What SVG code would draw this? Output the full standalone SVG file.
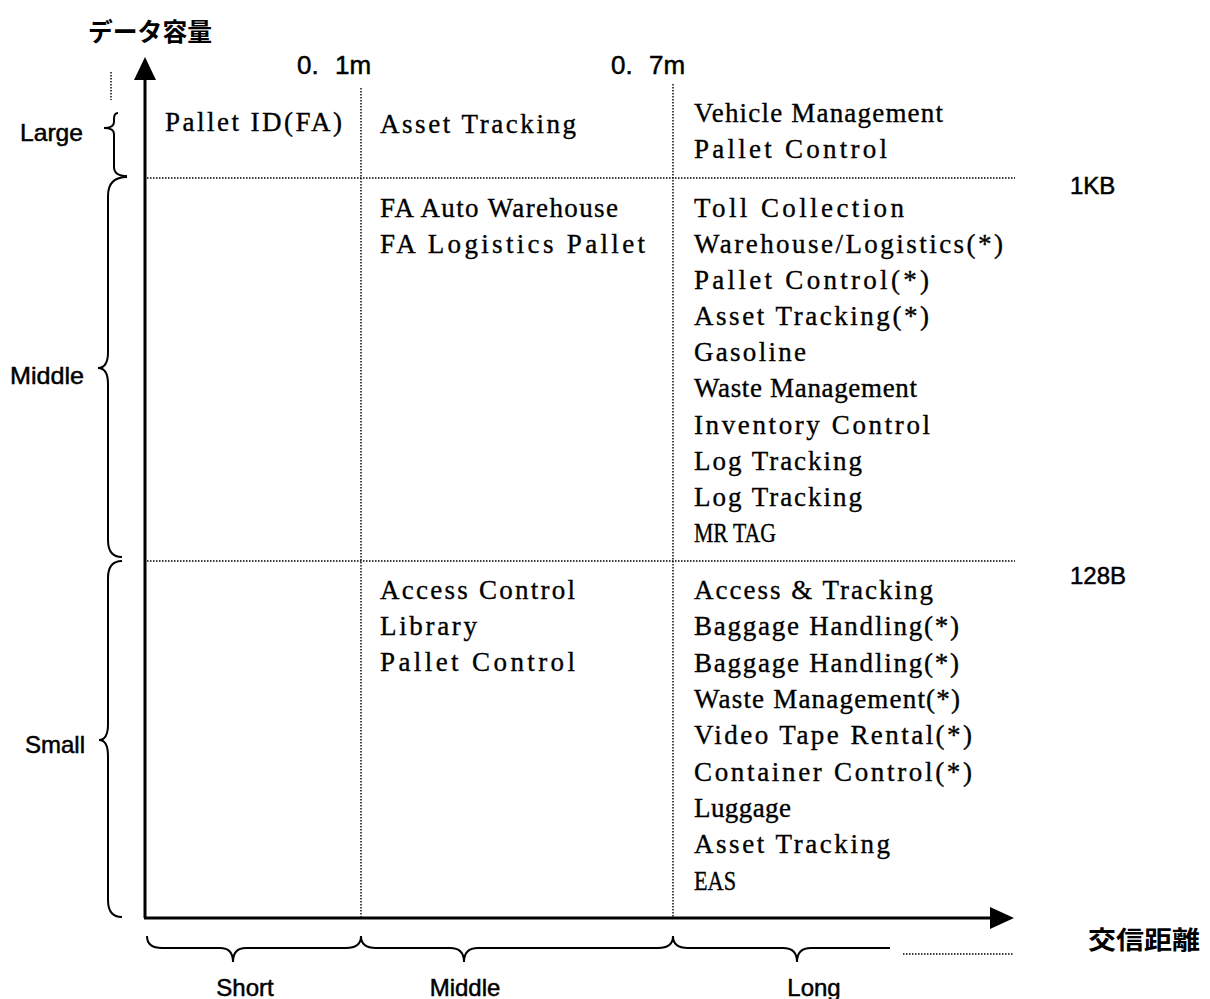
<svg xmlns="http://www.w3.org/2000/svg" width="1210" height="999" viewBox="0 0 1210 999">
<style>
.ax{stroke:#000;stroke-width:3;fill:none}
.dot{stroke:#000;stroke-width:1.4;stroke-dasharray:1.5 1.5;fill:none}
.br{stroke:#000;stroke-width:2;fill:none}
.item{font-family:"Liberation Serif",serif;font-size:27px;fill:#000;stroke:#000;stroke-width:0.35}
.lab{font-family:"Liberation Sans",Arial,sans-serif;font-size:24px;fill:#000;stroke:#000;stroke-width:0.5}
.big{font-size:26px}
.jp{font-family:"Noto Sans CJK JP","Liberation Sans",sans-serif;font-size:25px;font-weight:bold;fill:#000}
.mid{text-anchor:middle}
</style>
<rect width="1210" height="999" fill="#fff"/>
<g id="connectors">
<line class="ax" x1="145" y1="918" x2="145" y2="78"/>
<polygon points="145,57 134,80 156,80" fill="#000"/>
<line class="ax" x1="144" y1="918" x2="992" y2="918"/>
<polygon points="1014,918 990,907 990,929" fill="#000"/>
<line class="dot" x1="147" y1="178" x2="1015" y2="178"/>
<line class="dot" x1="147" y1="561" x2="1015" y2="561"/>
<line class="dot" x1="361" y1="88" x2="361" y2="917"/>
<line class="dot" x1="673" y1="84" x2="673" y2="917"/>
<line class="dot" x1="111" y1="72" x2="111" y2="100"/>
<line class="dot" x1="903" y1="954" x2="1013" y2="954"/>
<path class="br" d="M118,113 Q114,113 114,119 L114,122 Q114,128 104,128 Q114,128 114,134 L114,167 Q114,176 127,176"/>
<path class="br" d="M127,177 Q108,177 108,196 L108,352 Q108,368 98,368 Q108,368 108,384 L108,540 Q108,557 122,557"/>
<path class="br" d="M122,561 Q108,561 108,578 L108,724 Q108,740 99,740 Q108,740 108,756 L108,900 Q108,917 122,917"/>
<path class="br" d="M147,936 Q147,948 162,948 L220,948 Q233,948 233,962 Q233,948 246,948 L346,948 Q361,948 361,936"/>
<path class="br" d="M361,936 Q361,948 376,948 L450,948 Q464,948 464,962 Q464,948 478,948 L658,948 Q673,948 673,936"/>
<path class="br" d="M673,936 Q673,948 688,948 L783,948 Q797,948 797,962 Q797,948 811,948 L890,948"/>
</g>
<g id="axis-labels">
<text class="jp" x="88" y="41" textLength="124" lengthAdjust="spacingAndGlyphs">データ容量</text>
<text class="jp" x="1088" y="949" textLength="112" lengthAdjust="spacingAndGlyphs">交信距離</text>
<text class="lab big" x="297" y="74">0. <tspan x="335">1m</tspan></text>
<text class="lab big" x="611" y="74">0. <tspan x="649">7m</tspan></text>
<text class="lab" x="1070" y="194">1KB</text>
<text class="lab" x="1070" y="584">128B</text>
<text class="lab" x="20" y="141" textLength="63" lengthAdjust="spacingAndGlyphs">Large</text>
<text class="lab" x="10" y="384" textLength="74" lengthAdjust="spacingAndGlyphs">Middle</text>
<text class="lab" x="25" y="753" textLength="60" lengthAdjust="spacingAndGlyphs">Small</text>
<text class="lab mid" x="245" y="996">Short</text>
<text class="lab mid" x="465" y="996">Middle</text>
<text class="lab mid" x="814" y="996">Long</text>
</g>
<g id="cell-large-short"><text class="item" x="165" y="131" textLength="177" lengthAdjust="spacing">Pallet ID(FA)</text></g>
<g id="cell-large-middle"><text class="item" x="380" y="133" textLength="196" lengthAdjust="spacing">Asset Tracking</text></g>
<g id="cell-large-long">
<text class="item" x="694" y="122" textLength="249" lengthAdjust="spacing">Vehicle Management</text>
<text class="item" x="694" y="158" textLength="193" lengthAdjust="spacing">Pallet Control</text>
</g>
<g id="cell-middle-middle">
<text class="item" x="380" y="217" textLength="238" lengthAdjust="spacing">FA Auto Warehouse</text>
<text class="item" x="380" y="253" textLength="265" lengthAdjust="spacing">FA Logistics Pallet</text>
</g>
<g id="cell-middle-long">
<text class="item" x="694" y="217" textLength="210" lengthAdjust="spacing">Toll Collection</text>
<text class="item" x="694" y="253" textLength="309" lengthAdjust="spacing">Warehouse/Logistics(*)</text>
<text class="item" x="694" y="289" textLength="235" lengthAdjust="spacing">Pallet Control(*)</text>
<text class="item" x="694" y="325" textLength="235" lengthAdjust="spacing">Asset Tracking(*)</text>
<text class="item" x="694" y="361" textLength="112" lengthAdjust="spacing">Gasoline</text>
<text class="item" x="694" y="397" textLength="223" lengthAdjust="spacing">Waste Management</text>
<text class="item" x="694" y="434" textLength="236" lengthAdjust="spacing">Inventory Control</text>
<text class="item" x="694" y="470" textLength="168" lengthAdjust="spacing">Log Tracking</text>
<text class="item" x="694" y="506" textLength="168" lengthAdjust="spacing">Log Tracking</text>
<text class="item" x="694" y="542" textLength="82" lengthAdjust="spacingAndGlyphs">MR TAG</text>
</g>
<g id="cell-small-middle">
<text class="item" x="380" y="599" textLength="195" lengthAdjust="spacing">Access Control</text>
<text class="item" x="380" y="635" textLength="97" lengthAdjust="spacing">Library</text>
<text class="item" x="380" y="671" textLength="195" lengthAdjust="spacing">Pallet Control</text>
</g>
<g id="cell-small-long">
<text class="item" x="694" y="599" textLength="239" lengthAdjust="spacing">Access &amp; Tracking</text>
<text class="item" x="694" y="635" textLength="265" lengthAdjust="spacing">Baggage Handling(*)</text>
<text class="item" x="694" y="672" textLength="265" lengthAdjust="spacing">Baggage Handling(*)</text>
<text class="item" x="694" y="708" textLength="266" lengthAdjust="spacing">Waste Management(*)</text>
<text class="item" x="694" y="744" textLength="278" lengthAdjust="spacing">Video Tape Rental(*)</text>
<text class="item" x="694" y="781" textLength="278" lengthAdjust="spacing">Container Control(*)</text>
<text class="item" x="694" y="817" textLength="97" lengthAdjust="spacing">Luggage</text>
<text class="item" x="694" y="853" textLength="196" lengthAdjust="spacing">Asset Tracking</text>
<text class="item" x="694" y="890" textLength="42" lengthAdjust="spacingAndGlyphs">EAS</text>
</g>
</svg>
